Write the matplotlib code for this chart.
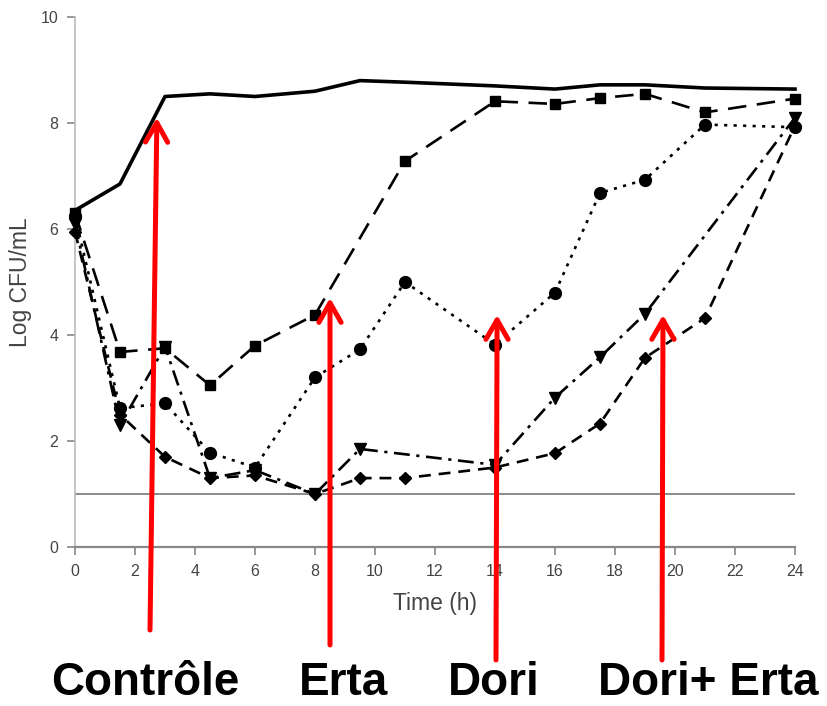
import matplotlib.pyplot as plt

plt.rcParams['font.family'] = ['Liberation Sans', 'DejaVu Sans']

# Time-kill data (log CFU/mL)
t_control = [0, 1.5, 3, 4.5, 6, 8, 9.5, 11, 14, 16, 17.5, 19, 21, 24]
control = [6.35, 6.85, 8.5, 8.55, 8.5, 8.6, 8.8, 8.77, 8.7, 8.64, 8.72, 8.72, 8.66, 8.64]

t_erta = [0, 1.5, 3, 4.5, 6, 8, 11, 14, 16, 17.5, 19, 21, 24]
erta = [6.3, 3.68, 3.75, 3.05, 3.8, 4.38, 7.28, 8.41, 8.36, 8.47, 8.55, 8.2, 8.46]

t_dori = [0, 1.5, 3, 4.5, 6, 8, 9.5, 11, 14, 16, 17.5, 19, 21, 24]
dori = [6.25, 2.62, 2.71, 1.78, 1.5, 3.2, 3.73, 5.0, 3.82, 4.8, 6.68, 6.93, 7.97, 7.92]

t_combo = [0, 1.5, 3, 4.5, 6, 8, 9.5, 14, 16, 17.5, 19, 24]
dori_erta = [6.1, 2.3, 3.78, 1.3, 1.45, 1.0, 1.85, 1.55, 2.82, 3.58, 4.4, 8.1]

t_other = [0, 1.5, 3, 4.5, 6, 8, 9.5, 11, 14, 16, 17.5, 19, 21, 24]
other = [5.95, 2.5, 1.7, 1.3, 1.35, 1.0, 1.3, 1.3, 1.5, 1.77, 2.33, 3.57, 4.32, 7.95]

detection_limit = 1.0

x_ticks = [0, 2, 4, 6, 8, 10, 12, 14, 16, 18, 20, 22, 24]
y_ticks = [0, 2, 4, 6, 8, 10]

# Labels under the chart with the point each arrow targets
arrow_labels = ['Contrôle', 'Erta', 'Dori', 'Dori+ Erta']
arrow_tips = [(2.73, 8.1), (8.5, 4.7), (14.07, 4.38), (19.6, 4.38)]
arrow_tails_px = [(150, 76), (330, 61), (496, 46), (662, 46)]
label_x_px = [145, 344, 494, 708]

fig = plt.figure(figsize=(8.27, 7.06), dpi=100)
ax = fig.add_axes([75 / 827, 1 - 547 / 706, 720 / 827, 530 / 706])

ax.axhline(detection_limit, color='#777777', lw=1.2, zorder=1)

common = dict(color='black', lw=1.9, clip_on=False, zorder=3)
ax.plot(t_control, control, ls='-', lw=2.6, color='black', clip_on=False, zorder=3)
ax.plot(t_erta, erta, marker='s', ms=7.5, dashes=(7, 4), **common)
ax.plot(t_dori, dori, marker='o', ms=8.5, dashes=(1.2, 2.4), **common)
ax.plot(t_combo, dori_erta, marker='v', ms=8.5, dashes=(6, 2.5, 1.2, 2.5), **common)
ax.plot(t_other, other, marker='D', ms=6.5, dashes=(4.5, 3), **common)

ax.set_xlim(0, 24)
ax.set_ylim(0, 10)
ax.set_xticks(x_ticks)
ax.set_yticks(y_ticks)

for side in ['top', 'right']:
    ax.spines[side].set_visible(False)
ax.spines['left'].set_color('#bbbbbb')
ax.spines['bottom'].set_color('#888888')
ax.spines['left'].set_linewidth(1.2)
ax.spines['bottom'].set_linewidth(1.6)
ax.tick_params(axis='both', direction='out', length=6, width=1.2,
               colors='#888888', labelcolor='#444444', labelsize=11.5, pad=6)

ax.set_xlabel('Time (h)', fontsize=16.5, color='#444444')
ax.xaxis.set_label_coords(0.5, -0.085)
ax.set_ylabel('Log CFU/mL', fontsize=16.5, color='#444444')
ax.yaxis.set_label_coords(-0.06, 0.5)

# Red arrows pointing at each curve
for tip, tail in zip(arrow_tips, arrow_tails_px):
    ax.annotate('', xy=tip, xycoords='data', xytext=tail,
                textcoords='figure pixels', annotation_clip=False,
                arrowprops=dict(arrowstyle='->,head_length=1.4,head_width=0.8',
                                color='#ff0000', lw=3.6, mutation_scale=10,
                                shrinkA=0, shrinkB=0),
                zorder=10)

for name, xp in zip(arrow_labels, label_x_px):
    fig.text(xp / 827, 11 / 706, name, ha='center', va='baseline',
             fontsize=33, fontweight='bold', color='black')

fig.savefig('out.png', dpi=100)
